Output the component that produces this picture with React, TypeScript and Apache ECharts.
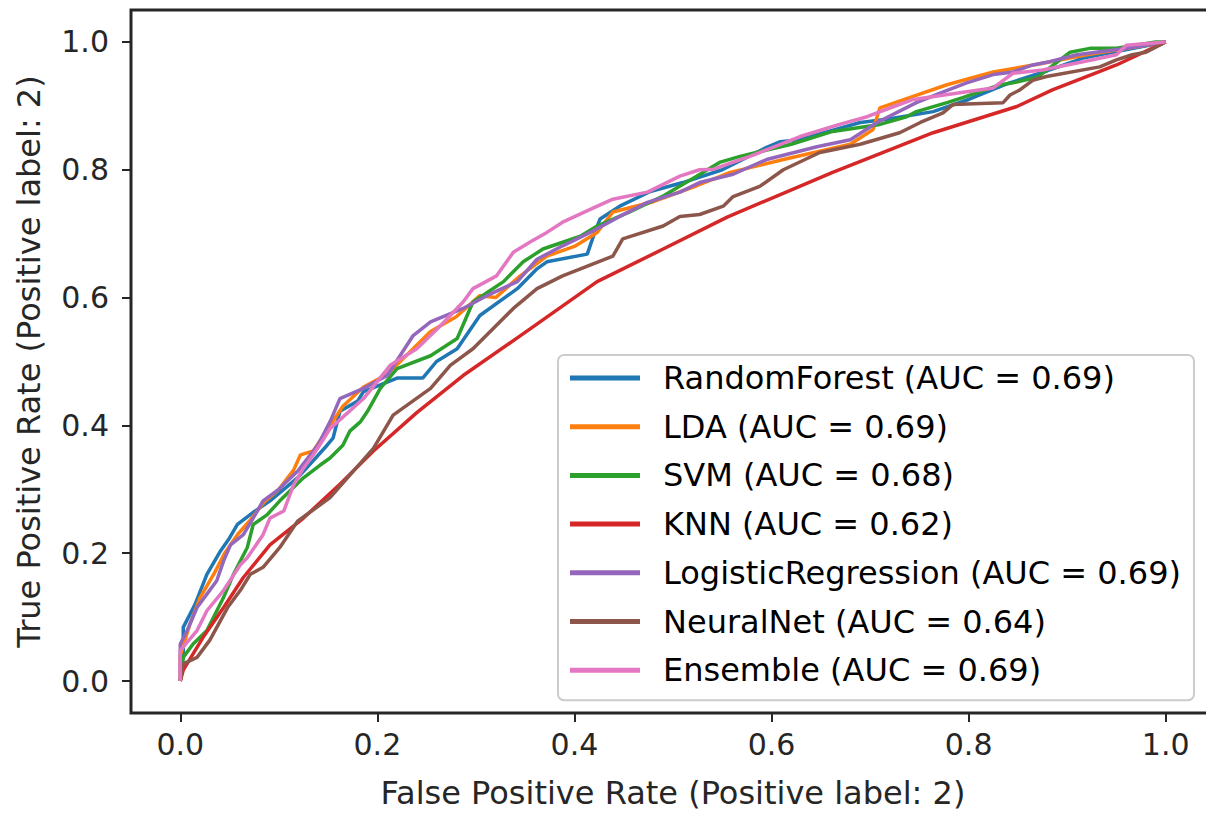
import React, { useEffect, useRef } from "react";
import * as echarts from "echarts";

const seriesNames = [
  "RandomForest (AUC = 0.69)",
  "LDA (AUC = 0.69)",
  "SVM (AUC = 0.68)",
  "KNN (AUC = 0.62)",
  "LogisticRegression (AUC = 0.69)",
  "NeuralNet (AUC = 0.64)",
  "Ensemble (AUC = 0.69)",
];

const colors = ["#1f77b4", "#ff7f0e", "#2ca02c", "#d62728", "#9467bd", "#8c564b", "#e377c2"];

const rfPoints = [
  [0, 0], [0.003, 0.04], [0.003, 0.084], [0.015, 0.12], [0.027, 0.167], [0.041, 0.204], [0.05, 0.224],
  [0.058, 0.245], [0.075, 0.265], [0.091, 0.282], [0.105, 0.3], [0.119, 0.318], [0.135, 0.345],
  [0.149, 0.369], [0.155, 0.38], [0.162, 0.422], [0.18, 0.438], [0.186, 0.453], [0.22, 0.474],
  [0.246, 0.474], [0.26, 0.5], [0.281, 0.52], [0.304, 0.572], [0.342, 0.614], [0.362, 0.645],
  [0.372, 0.656], [0.413, 0.668], [0.419, 0.695], [0.426, 0.723], [0.446, 0.743], [0.477, 0.766],
  [0.51, 0.78], [0.55, 0.8], [0.595, 0.835], [0.609, 0.844], [0.629, 0.847], [0.646, 0.855],
  [0.69, 0.874], [0.717, 0.879], [0.764, 0.891], [0.8, 0.91], [0.84, 0.935], [0.88, 0.955],
  [0.906, 0.969], [0.916, 0.975], [0.95, 0.985], [1, 1],
];

const ldaPoints = [
  [0, 0], [0, 0.04], [0.01, 0.09], [0.02, 0.13], [0.035, 0.17], [0.045, 0.2], [0.058, 0.229],
  [0.07, 0.25], [0.085, 0.28], [0.1, 0.3], [0.115, 0.33], [0.122, 0.354], [0.135, 0.36],
  [0.152, 0.4], [0.165, 0.43], [0.186, 0.46], [0.21, 0.48], [0.254, 0.547], [0.28, 0.57],
  [0.304, 0.603], [0.32, 0.6], [0.345, 0.634], [0.372, 0.665], [0.4, 0.68], [0.423, 0.702],
  [0.439, 0.734], [0.48, 0.75], [0.524, 0.775], [0.558, 0.796], [0.612, 0.816], [0.68, 0.84],
  [0.703, 0.863], [0.71, 0.897], [0.74, 0.913], [0.778, 0.933], [0.825, 0.953], [0.87, 0.965],
  [0.92, 0.98], [1, 1],
];

const svmPoints = [
  [0, 0], [0.003, 0.037], [0.013, 0.058], [0.027, 0.079], [0.044, 0.131], [0.054, 0.167],
  [0.068, 0.209], [0.074, 0.245], [0.088, 0.26], [0.101, 0.282], [0.125, 0.318], [0.142, 0.338],
  [0.152, 0.349], [0.165, 0.369], [0.172, 0.391], [0.183, 0.406], [0.19, 0.422], [0.203, 0.458],
  [0.22, 0.489], [0.254, 0.509], [0.281, 0.536], [0.297, 0.593], [0.328, 0.625], [0.348, 0.656],
  [0.368, 0.676], [0.406, 0.696], [0.423, 0.712], [0.456, 0.734], [0.49, 0.759], [0.524, 0.79],
  [0.548, 0.812], [0.568, 0.821], [0.62, 0.84], [0.662, 0.86], [0.71, 0.871], [0.737, 0.883],
  [0.747, 0.891], [0.778, 0.905], [0.794, 0.913], [0.832, 0.933], [0.845, 0.936], [0.87, 0.945],
  [0.903, 0.984], [0.923, 0.99], [0.95, 0.99], [0.99, 1.0], [1, 1],
];

const knnPoints = [
  [0, 0], [0.003, 0.017], [0.023, 0.068], [0.044, 0.115], [0.064, 0.162], [0.091, 0.213],
  [0.125, 0.255], [0.16, 0.305], [0.196, 0.36], [0.24, 0.42], [0.287, 0.478], [0.355, 0.551],
  [0.423, 0.625], [0.49, 0.676], [0.555, 0.726], [0.662, 0.796], [0.764, 0.858], [0.849, 0.899],
  [0.885, 0.925], [0.93, 0.952], [0.95, 0.964], [1, 1],
];

const lrPoints = [
  [0, 0], [0, 0.058], [0.007, 0.079], [0.017, 0.115], [0.027, 0.136], [0.037, 0.157], [0.044, 0.188],
  [0.051, 0.213], [0.064, 0.229], [0.074, 0.255], [0.084, 0.282], [0.1, 0.3], [0.12, 0.33],
  [0.14, 0.37], [0.152, 0.406], [0.162, 0.442], [0.186, 0.458], [0.21, 0.478], [0.236, 0.54],
  [0.254, 0.562], [0.287, 0.583], [0.311, 0.603], [0.342, 0.625], [0.362, 0.66], [0.388, 0.681],
  [0.416, 0.702], [0.446, 0.727], [0.474, 0.749], [0.507, 0.765], [0.527, 0.78], [0.561, 0.793],
  [0.595, 0.816], [0.646, 0.836], [0.68, 0.847], [0.707, 0.874], [0.747, 0.905], [0.771, 0.92],
  [0.798, 0.936], [0.825, 0.949], [0.845, 0.953], [0.865, 0.964], [0.882, 0.969], [0.91, 0.98],
  [0.96, 0.99], [1, 1],
];

const nnPoints = [
  [0, 0], [0.003, 0.027], [0.017, 0.037], [0.03, 0.064], [0.048, 0.115], [0.061, 0.142],
  [0.071, 0.167], [0.084, 0.178], [0.101, 0.209], [0.119, 0.25], [0.152, 0.287], [0.196, 0.364],
  [0.216, 0.416], [0.254, 0.458], [0.274, 0.494], [0.297, 0.52], [0.338, 0.583], [0.362, 0.614],
  [0.388, 0.634], [0.439, 0.665], [0.449, 0.692], [0.49, 0.712], [0.507, 0.727], [0.527, 0.73],
  [0.551, 0.743], [0.561, 0.758], [0.588, 0.774], [0.612, 0.8], [0.649, 0.827], [0.69, 0.84],
  [0.73, 0.858], [0.751, 0.874], [0.774, 0.889], [0.784, 0.902], [0.835, 0.905], [0.842, 0.917],
  [0.852, 0.925], [0.865, 0.94], [0.879, 0.946], [0.933, 0.961], [0.95, 0.972], [0.966, 0.98],
  [0.98, 0.984], [1, 1],
];

const ensPoints = [
  [0, 0], [0, 0.048], [0.017, 0.079], [0.027, 0.11], [0.044, 0.142], [0.061, 0.182], [0.068, 0.193],
  [0.084, 0.229], [0.091, 0.255], [0.105, 0.266], [0.115, 0.307], [0.125, 0.333], [0.135, 0.354],
  [0.146, 0.38], [0.152, 0.395], [0.186, 0.442], [0.213, 0.494], [0.24, 0.52], [0.264, 0.556],
  [0.287, 0.593], [0.297, 0.614], [0.321, 0.634], [0.338, 0.671], [0.355, 0.687], [0.372, 0.702],
  [0.388, 0.718], [0.416, 0.738], [0.439, 0.754], [0.474, 0.765], [0.507, 0.79], [0.527, 0.8],
  [0.541, 0.801], [0.578, 0.821], [0.629, 0.852], [0.669, 0.871], [0.697, 0.883], [0.724, 0.899],
  [0.744, 0.91], [0.798, 0.922], [0.825, 0.928], [0.845, 0.951], [0.875, 0.956], [0.916, 0.969],
  [0.95, 0.98], [0.96, 0.995], [1, 1],
];

const allPoints = [rfPoints, ldaPoints, svmPoints, knnPoints, lrPoints, nnPoints, ensPoints];
const tickValues = [0, 0.2, 0.4, 0.6, 0.8, 1.0];
const xTitle = "False Positive Rate (Positive label: 2)";
const yTitle = "True Positive Rate (Positive label: 2)";

const FONT = "DejaVu Sans";
const INK = "#262626";

export default function App() {
  const ref = useRef<HTMLDivElement>(null);
  useEffect(() => {
    if (!ref.current) return;
    const chart = echarts.init(ref.current, undefined, { renderer: "svg" });
    const axisCommon = {
      type: "value",
      min: -0.05,
      max: 1.05,
      splitLine: { show: false },
      axisLine: { show: false, onZero: false },
      axisTick: {
        show: true,
        inside: false,
        customValues: tickValues,
        length: 9,
        lineStyle: { color: INK, width: 2 },
      },
      nameLocation: "middle",
      nameTextStyle: { fontFamily: FONT, fontSize: 32, color: INK },
    };
    chart.setOption({
      animation: false,
      backgroundColor: "#ffffff",
      color: colors,
      grid: {
        left: 131,
        top: 10,
        right: 15,
        bottom: 99,
        show: true,
        borderColor: INK,
        borderWidth: 3,
        backgroundColor: "transparent",
      },
      xAxis: {
        ...axisCommon,
        position: "bottom",
        name: xTitle,
        nameGap: 64,
        axisLabel: {
          customValues: tickValues,
          formatter: (v: number) => v.toFixed(1),
          fontFamily: FONT,
          fontSize: 30,
          color: INK,
          margin: 16,
        },
      },
      yAxis: {
        ...axisCommon,
        position: "left",
        name: yTitle,
        nameGap: 86,
        axisLabel: {
          customValues: tickValues,
          formatter: (v: number) => v.toFixed(1),
          fontFamily: FONT,
          fontSize: 30,
          color: INK,
          margin: 22,
        },
      },
      legend: {
        orient: "vertical",
        left: 558,
        top: 355,
        padding: [7, 13, 14, 12],
        itemWidth: 70,
        itemHeight: 5,
        itemGap: 16.7,
        icon: "rect",
        backgroundColor: "rgba(255,255,255,0.8)",
        borderColor: "#cccccc",
        borderWidth: 2,
        borderRadius: 6,
        textStyle: {
          fontFamily: FONT,
          fontSize: 32,
          lineHeight: 32,
          color: "#000000",
          padding: [0, 0, 0, 18],
        },
        data: seriesNames,
      },
      series: seriesNames.map((name, i) => ({
        name,
        type: "line",
        data: allPoints[i],
        showSymbol: false,
        symbol: "none",
        lineStyle: { width: 3.5, color: colors[i] },
        itemStyle: { color: colors[i] },
      })),
    });
    return () => chart.dispose();
  }, []);
  return (
    <div
      ref={ref}
      style={{ position: "fixed", left: 0, top: 0, width: 1230, height: 814 }}
    />
  );
}
